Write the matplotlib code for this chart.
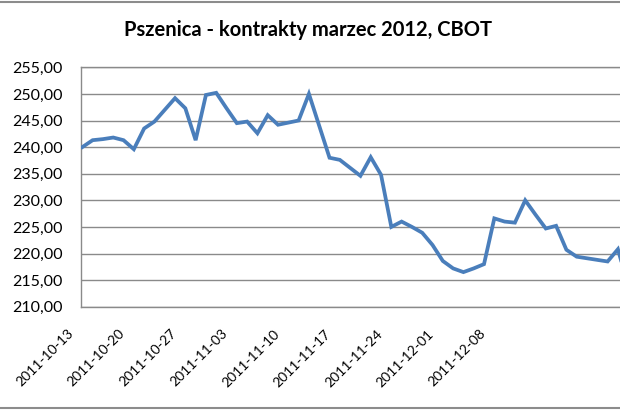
import matplotlib
matplotlib.use("Agg")
import matplotlib.pyplot as plt
import matplotlib.transforms as mtransforms
from matplotlib.lines import Line2D
import numpy as np

# trading days (category axis, one label every 5 sessions)
tick_labels = ["2011-10-13", "2011-10-20", "2011-10-27", "2011-11-03", "2011-11-10",
               "2011-11-17", "2011-11-24", "2011-12-01", "2011-12-08"]
ceny = [240.0, 241.3, 241.5, 241.8, 241.3, 239.6, 243.5, 244.8, 247.0, 249.2,
        247.3, 241.3, 249.8, 250.2, 247.3, 244.5, 244.8, 242.6, 246.0, 244.2,
        244.6, 245.0, 250.0, 244.0, 238.0, 237.6, 236.1, 234.6, 238.1, 234.8,
        225.0, 226.0, 225.0, 223.9, 221.6, 218.6, 217.2, 216.5, 217.2, 218.0,
        226.6, 226.0, 225.8, 230.0, 227.3, 224.7, 225.2, 220.7, 219.4, 219.1,
        218.8, 218.5, 220.8, 214.0]
y_ticks = [210, 215, 220, 225, 230, 235, 240, 245, 250, 255]

plt.rcParams["font.family"] = ["Lato", "DejaVu Sans"]

fig = plt.figure(figsize=(6.2, 4.13), dpi=100)
fig.patch.set_facecolor("white")

W, H = 620, 413
left_px, right_px, top_px, bottom_px = 81, 638.5, 67.3, 306.7
ax = fig.add_axes([left_px / W, 1 - bottom_px / H,
                   (right_px - left_px) / W, (bottom_px - top_px) / H])

x = np.arange(len(ceny))
ax.plot(x, ceny, color="#4a7ebb", lw=2.7, solid_joinstyle="miter", zorder=3)

ax.set_ylim(210, 255)
ax.set_xlim(-0.13, 54)
ax.set_yticks(y_ticks)
ax.set_yticklabels([f"{v:.2f}".replace(".", ",") for v in y_ticks], fontsize=11.5)
ax.yaxis.grid(True, color="#8a8a8a", lw=1.0)
ax.set_axisbelow(True)

ax.set_xticks(np.arange(0, 5 * len(tick_labels), 5))
ax.set_xticklabels(tick_labels, rotation=45, ha="right", va="center",
                   rotation_mode="anchor", fontsize=10)
ax.tick_params(axis="both", length=0)
ax.tick_params(axis="y", pad=13)
ax.tick_params(axis="x", pad=18)
offset = mtransforms.ScaledTranslation(-11 / 100, 0, fig.dpi_scale_trans)
for lab in ax.get_xticklabels():
    lab.set_transform(lab.get_transform() + offset)

for side in ["left", "bottom", "top"]:
    ax.spines[side].set_color("#8a8a8a")
    ax.spines[side].set_linewidth(1.0)
ax.spines["right"].set_visible(False)

fig.text(308 / W, 1 - 30 / H, "Pszenica - kontrakty marzec 2012, CBOT",
         ha="center", va="center", fontsize=14.5, fontweight="bold", color="black")

# chart area border (top and bottom visible in the crop)
fig.add_artist(Line2D([0, 1], [1 - 2 / H, 1 - 2 / H], transform=fig.transFigure,
                      color="#8c8c8c", lw=1.5))
fig.add_artist(Line2D([0, 1], [1 - 408 / H, 1 - 408 / H], transform=fig.transFigure,
                      color="#8c8c8c", lw=1.5))

fig.savefig("out.png", dpi=100)
